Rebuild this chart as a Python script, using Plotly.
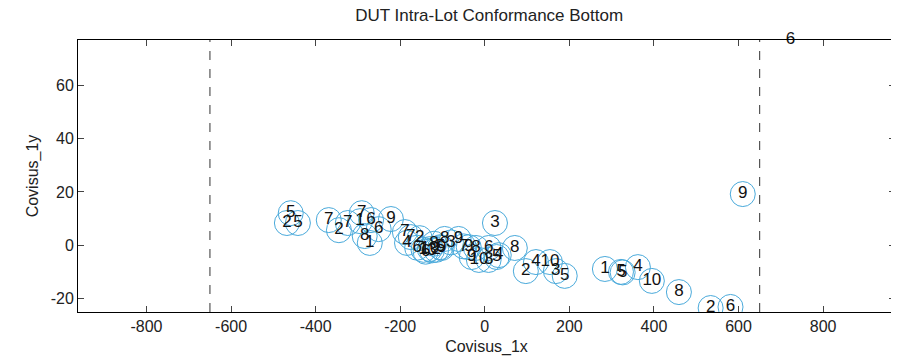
import plotly.graph_objects as go

title = "DUT Intra-Lot Conformance Bottom"

# point positions (Covisus_1x, Covisus_1y) and their labels
x_vals = [-459, -468, -442, -369, -345, -324, -291, -295, -269, -284, -272, -251, -222,
          -189, -175, -154, -184, -160, -145, -130, -115, -105, -102, -95, -62, -50, -38,
          -21, 9, -31, -14, 9, 28, 33, -140, -125, -120, -80,
          24, 71, 97, 121, 154, 168, 189, 284, 322, 326, 362, 395, 459, 534, 581, 610, 723]
y_vals = [12.0, 8.3, 8.3, 9.4, 5.6, 8.3, 12.0, 9.0, 9.4, 3.4, 0.8, 6.0, 9.8,
          4.9, 3.0, 2.6, 0.8, -1.0, -1.8, -1.5, -1.8, -0.8, -1.1, 2.3, 2.3, -0.5, -0.8,
          -1.1, -1.1, -4.5, -5.6, -5.6, -4.5, -3.8, -2.5, -2.0, 0.5, 1.0,
          8.3, -1.1, -9.8, -6.4, -6.4, -9.8, -11.6, -9.0, -10.1, -10.3, -8.3, -13.5, -17.7, -23.7, -23.3, 19.2, 77.6]
labels = ["5", "2", "5", "7", "2", "7", "7", "1", "6", "8", "1", "6", "9",
          "7", "7", "2", "4", "6", "1", "10", "2", "5", "9", "8", "9", "7", "9",
          "8", "6", "9", "10", "3", "5", "4", "6", "3", "8", "3",
          "3", "8", "2", "4", "10", "3", "5", "1", "5", "5", "4", "10", "8", "2", "6", "9", "6"]

limit_lines = [-650, 650]

x_range = [-962, 970]
y_range = [-25.2, 77.2]
x_ticks = [-800, -600, -400, -200, 0, 200, 400, 600, 800]
x_tick_text = ["-800", "-600", "-400", "-200", "0", "200", "400", "600", "800"]
y_ticks = [-20, 0, 20, 40, 60]
y_tick_text = ["-20", "0", "20", "40", "60"]

font = "Liberation Sans, Arial, sans-serif"

inside = [i for i in range(len(x_vals)) if y_range[0] <= y_vals[i] <= y_range[1]]
outside = [i for i in range(len(x_vals)) if i not in inside]

fig = go.Figure()

# circles (clipped to the axes, like matlab)
fig.add_trace(go.Scatter(
    x=[x_vals[i] for i in inside], y=[y_vals[i] for i in inside],
    mode="markers",
    marker=dict(symbol="circle-open", size=25, color="#4aaadb", line=dict(width=1)),
    hoverinfo="skip", showlegend=False))

# labels inside the circles
fig.add_trace(go.Scatter(
    x=[x_vals[i] for i in inside], y=[y_vals[i] for i in inside],
    mode="text", text=[labels[i] for i in inside],
    textfont=dict(family=font, size=17, color="#111111"),
    textposition="middle center", showlegend=False))

# text is not clipped for points off the top of the axes
fig.add_trace(go.Scatter(
    x=[x_vals[i] for i in outside], y=[y_range[1] for i in outside],
    mode="text", text=[labels[i] for i in outside],
    textfont=dict(family=font, size=17, color="#111111"),
    textposition="middle center", cliponaxis=False, showlegend=False))

for lx in limit_lines:
    fig.add_shape(type="line", xref="x", yref="paper", x0=lx, x1=lx, y0=0, y1=1,
                  line=dict(color="#333333", width=1, dash="dash"))

axis_style = dict(showgrid=False, zeroline=False, showline=True, linecolor="black",
                  linewidth=1, mirror="ticks", ticks="inside", ticklen=6, automargin=False,
                  tickcolor="#444444", tickfont=dict(family=font, size=16, color="#222222"))

fig.update_xaxes(range=x_range, tickvals=x_ticks, ticktext=x_tick_text,
                 title=dict(text="Covisus_1x", font=dict(family=font, size=16, color="#222222"), standoff=6),
                 **axis_style)
fig.update_yaxes(range=y_range, tickvals=y_ticks, ticktext=y_tick_text,
                 title=dict(text="Covisus_1y", font=dict(family=font, size=16, color="#222222"), standoff=8),
                 **axis_style)

# the page adds an 8px body margin, so the figure is sized to fit the window
fig.update_layout(
    width=891, height=352,
    margin=dict(l=70, r=4, t=32, b=48, autoexpand=False),
    paper_bgcolor="white", plot_bgcolor="white",
    title=dict(text=title, x=0.54, xanchor="center", y=0.998, yanchor="top",
               font=dict(family=font, size=17, color="#222222")),
)

fig.write_html("out.html")
